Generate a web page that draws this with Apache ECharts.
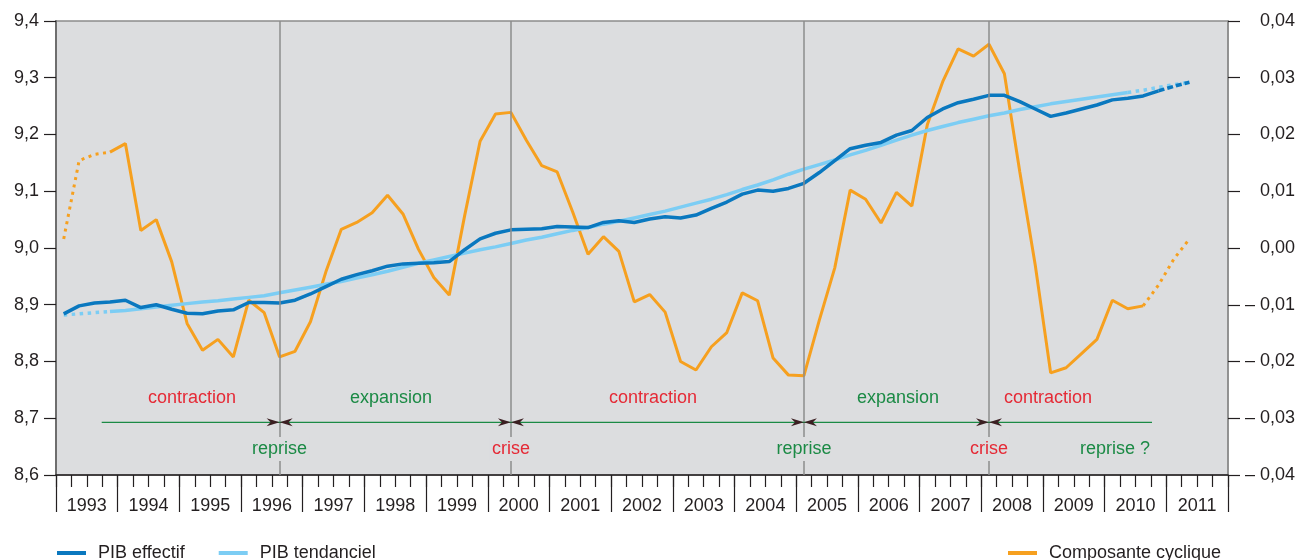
<!DOCTYPE html>
<html>
<head>
<meta charset="utf-8">
<script src="https://cdn.jsdelivr.net/npm/echarts@6/dist/echarts.min.js"></script>
<style>
html, body { margin: 0; padding: 0; background: #fff; }
#main { width: 1299px; height: 560px; }
</style>
</head>
<body>
<div id="main"></div>
<script>
// années et trimestres
var years = ['1993','1994','1995','1996','1997','1998','1999','2000','2001','2002',
             '2003','2004','2005','2006','2007','2008','2009','2010','2011'];
var quarters = [];
years.forEach(function (y) {
    ['T1','T2','T3','T4'].forEach(function (q) { quarters.push(y + ' ' + q); });
});

// PIB effectif (log), 1993T1 -> 2011T2
var pibEffectif = [
    8.884, 8.898, 8.903, 8.905,
    8.908, 8.895, 8.900, 8.892,
    8.885, 8.884, 8.889, 8.891,
    8.904, 8.904, 8.903, 8.908,
    8.919, 8.932, 8.945, 8.953,
    8.960, 8.968, 8.972, 8.973,
    8.974, 8.976, 8.997, 9.016,
    9.026, 9.032, 9.033, 9.034,
    9.038, 9.037, 9.036, 9.045,
    9.048, 9.045, 9.051, 9.055,
    9.053, 9.058, 9.070, 9.081,
    9.095, 9.102, 9.100, 9.105,
    9.114, 9.133, 9.154, 9.175,
    9.181, 9.186, 9.199, 9.207,
    9.230, 9.245, 9.256, 9.262,
    9.269, 9.269, 9.258, 9.245,
    9.232, 9.238, 9.245, 9.252,
    9.261, 9.264, 9.268, 9.277,
    9.285, 9.292
];

// PIB tendanciel
var pibTendanciel = [
    8.882, 8.884, 8.886, 8.888,
    8.890, 8.893, 8.896, 8.899,
    8.902, 8.905, 8.907, 8.910,
    8.913, 8.916, 8.921, 8.926,
    8.931, 8.936, 8.941, 8.947,
    8.953, 8.959, 8.966, 8.973,
    8.979, 8.985, 8.991, 8.997,
    9.002, 9.008, 9.014, 9.019,
    9.025, 9.031, 9.036, 9.042,
    9.047, 9.053, 9.059, 9.065,
    9.072, 9.079, 9.086, 9.094,
    9.103, 9.111, 9.120, 9.130,
    9.139, 9.147, 9.155, 9.164,
    9.172, 9.181, 9.190, 9.199,
    9.207, 9.214, 9.221, 9.227,
    9.233, 9.238, 9.244, 9.249,
    9.254, 9.258, 9.262, 9.266,
    9.270, 9.274, 9.278, 9.283,
    9.288, 9.292
];

// composante cyclique (axe de droite)
var composante = [
    0.0016, 0.0154, 0.0165, 0.0169,
    0.0184, 0.0031, 0.0050, -0.0024,
    -0.0133, -0.0180, -0.0161, -0.0192,
    -0.0092, -0.0114, -0.0192, -0.0182,
    -0.0130, -0.0042, 0.0033, 0.0045,
    0.0062, 0.0093, 0.0060, -0.0002,
    -0.0052, -0.0083, 0.0057, 0.0188,
    0.0236, 0.0239, 0.0190, 0.0145,
    0.0134, 0.0064, -0.0011, 0.0020,
    -0.0006, -0.0095, -0.0082, -0.0113,
    -0.0200, -0.0215, -0.0174, -0.0149,
    -0.0079, -0.0093, -0.0194, -0.0224,
    -0.0225, -0.0127, -0.0035, 0.0102,
    0.0086, 0.0044, 0.0098, 0.0074,
    0.0217, 0.0293, 0.0351, 0.0338,
    0.0359, 0.0307, 0.0134, -0.0030,
    -0.0220, -0.0211, -0.0186, -0.0161,
    -0.0092, -0.0107, -0.0102, -0.0065,
    -0.0019, 0.0016
];

// ruptures du cycle (indice du trimestre)
var evenements = [
    { idx: 14, text: 'reprise', color: '#1b8a45' },
    { idx: 29, text: 'crise', color: '#e52a36' },
    { idx: 48, text: 'reprise', color: '#1b8a45' },
    { idx: 60, text: 'crise', color: '#e52a36' }
];
var phases = [
    { x: 192, text: 'contraction', color: '#e52a36' },
    { x: 391, text: 'expansion', color: '#1b8a45' },
    { x: 653, text: 'contraction', color: '#e52a36' },
    { x: 898, text: 'expansion', color: '#1b8a45' },
    { x: 1048, text: 'contraction', color: '#e52a36' }
];

var FONT = '"Liberation Sans", Arial, sans-serif';
var GRIS = '#dcdddf';

function part(arr, from, to) {
    return arr.map(function (v, i) { return (i >= from && i <= to) ? v : null; });
}

var myChart = echarts.init(document.getElementById('main'));
var option = {
    animation: false,
    textStyle: { fontFamily: FONT },
    grid: {
        left: 56, right: 71, top: 21, bottom: 85,
        show: true,
        backgroundColor: GRIS,
        borderColor: '#8c8c8c',
        borderWidth: 1.5
    },
    legend: [{
        data: ['PIB effectif', 'PIB tendanciel'],
        left: 52, top: 539,
        icon: 'rect', itemWidth: 29, itemHeight: 4, itemGap: 34,
        textStyle: { fontSize: 18, color: '#231f20', fontFamily: FONT, padding: [0, 0, 0, 7] }
    }, {
        data: ['Composante cyclique'],
        left: 1003, top: 539,
        icon: 'rect', itemWidth: 29, itemHeight: 4,
        textStyle: { fontSize: 18, color: '#231f20', fontFamily: FONT, padding: [0, 0, 0, 7] }
    }],
    xAxis: [{
        type: 'category',
        data: quarters,
        boundaryGap: true,
        axisLine: { show: true, onZero: false, lineStyle: { color: '#231f20', width: 1.5 } },
        axisTick: { show: true, alignWithLabel: false, interval: 0, length: 12,
                    lineStyle: { color: '#231f20', width: 1.2 } },
        axisLabel: { show: false, interval: 0 },
        splitLine: { show: false }
    }, {
        type: 'category',
        data: years,
        position: 'bottom',
        boundaryGap: true,
        axisLine: { show: false, onZero: false },
        axisTick: { show: true, alignWithLabel: false, interval: 0, length: 37,
                    lineStyle: { color: '#231f20', width: 1.2 } },
        axisLabel: { interval: 0, margin: 22, fontSize: 18, color: '#231f20', fontFamily: FONT },
        splitLine: { show: false }
    }],
    yAxis: [{
        type: 'value',
        min: 8.6, max: 9.4, interval: 0.1,
        axisLine: { show: true, lineStyle: { color: '#6e6e6e', width: 2 } },
        axisTick: { show: true, length: 12, lineStyle: { color: '#231f20', width: 1.2 } },
        axisLabel: {
            margin: 17, fontSize: 18, color: '#231f20', fontFamily: FONT,
            formatter: function (v) { return v.toFixed(1).replace('.', ','); }
        },
        splitLine: { show: false }
    }, {
        type: 'value',
        min: -0.04, max: 0.04, interval: 0.01,
        position: 'right',
        axisLine: { show: true, lineStyle: { color: '#8c8c8c', width: 1.5 } },
        axisTick: { show: true, length: 12, lineStyle: { color: '#231f20', width: 1.2 } },
        axisLabel: {
            margin: 67, align: 'right', fontSize: 18, color: '#231f20', fontFamily: FONT,
            formatter: function (v) {
                var r = Math.round(v * 100) / 100;
                var s = Math.abs(r).toFixed(2).replace('.', ',');
                return r < 0 ? '\u2013 ' + s : s;
            }
        },
        splitLine: { show: false }
    }],
    series: [{
        name: 'Composante cyclique',
        type: 'line',
        yAxisIndex: 1,
        data: part(composante, 3, 70),
        symbol: 'none',
        color: '#f6a01f',
        lineStyle: { width: 3, color: '#f6a01f' },
        markLine: {
            silent: true,
            symbol: ['none', 'none'],
            label: { show: false },
            lineStyle: { color: '#8c8c8c', width: 1.5, type: 'solid' },
            data: evenements.map(function (e) { return { xAxis: quarters[e.idx] }; })
        }
    }, {
        name: 'Composante cyclique (pointillés)',
        type: 'line',
        yAxisIndex: 1,
        data: part(composante, 0, 3),
        symbol: 'none',
        color: '#f6a01f',
        lineStyle: { width: 3, color: '#f6a01f', type: [3, 4.5] }
    }, {
        name: 'Composante cyclique (fin)',
        type: 'line',
        yAxisIndex: 1,
        data: part(composante, 70, 73),
        symbol: 'none',
        color: '#f6a01f',
        lineStyle: { width: 3, color: '#f6a01f', type: [3, 4.5] }
    }, {
        name: 'PIB tendanciel',
        type: 'line',
        data: part(pibTendanciel, 3, 69),
        symbol: 'none',
        color: '#7ccdf4',
        lineStyle: { width: 3.5, color: '#7ccdf4' }
    }, {
        name: 'PIB tendanciel (pointillés)',
        type: 'line',
        data: part(pibTendanciel, 0, 3),
        symbol: 'none',
        color: '#7ccdf4',
        lineStyle: { width: 3.5, color: '#7ccdf4', type: [3.5, 4.5] }
    }, {
        name: 'PIB tendanciel (fin)',
        type: 'line',
        data: part(pibTendanciel, 69, 73),
        symbol: 'none',
        color: '#7ccdf4',
        lineStyle: { width: 3.5, color: '#7ccdf4', type: [3.5, 4.5] }
    }, {
        name: 'PIB effectif',
        type: 'line',
        data: part(pibEffectif, 0, 71),
        symbol: 'none',
        color: '#0a78bf',
        lineStyle: { width: 3.5, color: '#0a78bf' }
    }, {
        name: 'PIB effectif (fin)',
        type: 'line',
        data: part(pibEffectif, 71, 73),
        symbol: 'none',
        color: '#0a78bf',
        lineStyle: { width: 3.5, color: '#0a78bf', type: [6, 3] }
    }]
};
myChart.setOption(option);

// annotations : ligne verte, flèches, libellés
var yLigne = 422.3, yHaut = 397.7, yBas = 449;
var elements = [{
    type: 'line', z: 50,
    shape: { x1: 101.7, y1: yLigne, x2: 1152, y2: yLigne },
    style: { stroke: '#1b8a45', lineWidth: 1.3 }
}];
function texte(x, y, t, c, fond) {
    var st = { text: t, x: x, y: y, fill: c, font: '18px ' + FONT,
               align: 'center', verticalAlign: 'middle',
               textAlign: 'center', textVerticalAlign: 'middle' };
    if (fond) { st.backgroundColor = GRIS; st.padding = [3, 2]; }
    return { type: 'text', z: 60, style: st };
}
evenements.forEach(function (e) {
    var x = myChart.convertToPixel({ xAxisIndex: 0 }, quarters[e.idx]);
    elements.push({
        type: 'polygon', z: 55,
        shape: { points: [[x, yLigne], [x - 13, yLigne - 4], [x - 9, yLigne], [x - 13, yLigne + 4]] },
        style: { fill: '#3b1f22' }
    });
    elements.push({
        type: 'polygon', z: 55,
        shape: { points: [[x, yLigne], [x + 13, yLigne - 4], [x + 9, yLigne], [x + 13, yLigne + 4]] },
        style: { fill: '#3b1f22' }
    });
    elements.push(texte(x, yBas, e.text, e.color, true));
});
phases.forEach(function (p) { elements.push(texte(p.x, yHaut, p.text, p.color, false)); });
elements.push(texte(1115, yBas, 'reprise ?', '#1b8a45', false));

myChart.setOption({ graphic: elements });
</script>
</body>
</html>
